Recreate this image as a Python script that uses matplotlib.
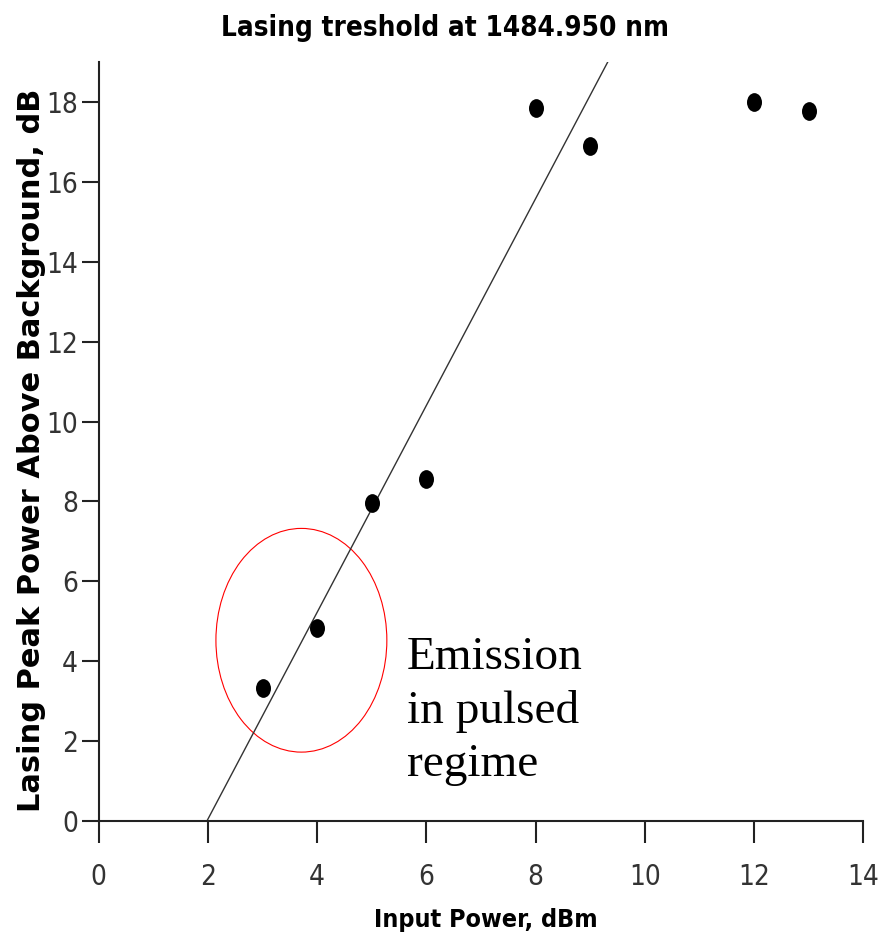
import matplotlib
matplotlib.use("Agg")
import matplotlib.pyplot as plt
from matplotlib.patches import Ellipse
from matplotlib.path import Path
from matplotlib.transforms import Affine2D

# data
input_power = [3, 4, 5, 6, 8, 9, 12, 13]
peak_power = [3.32, 4.83, 7.95, 8.55, 17.85, 16.9, 17.99, 17.78]

# linear fit shown in the plot
fit_x = [1.98, 9.32]
fit_y = [0, 19]

xticks = [0, 2, 4, 6, 8, 10, 12, 14]
yticks = [0, 2, 4, 6, 8, 10, 12, 14, 16, 18]

# slightly tall dots (the original image was stretched vertically)
dot = Path.unit_circle().transformed(Affine2D().scale(1.0, 1.25))

fig = plt.figure(figsize=(8.9, 9.41), dpi=100)
ax = fig.add_axes([0.111, 0.1275, 0.859, 0.8066])

ax.plot(fit_x, fit_y, color="#333333", lw=1.0, zorder=2)
ax.plot(input_power, peak_power, linestyle="none", marker=dot, markersize=13.5,
        color="black", markeredgewidth=0, zorder=3)

ax.add_patch(Ellipse((3.71, 4.525), 3.13, 5.6, fill=False, edgecolor="red", lw=0.8))

ax.text(5.64, 4.62, "Emission\nin pulsed\nregime", family="Liberation Serif",
        fontsize=34, ha="left", va="top", linespacing=1.33)

ax.set_xlim(0, 14)
ax.set_ylim(0, 19)
ax.set_xticks(xticks)
ax.set_yticks(yticks)

for s in ["top", "right"]:
    ax.spines[s].set_visible(False)
for s in ["left", "bottom"]:
    ax.spines[s].set_linewidth(1.5)
    ax.spines[s].set_color("#222222")

ax.tick_params(axis="x", length=16, width=1.5, pad=14, labelsize=20, colors="#222222")
ax.tick_params(axis="y", length=12, width=1.5, pad=3, labelsize=20, colors="#222222")
for lab in ax.get_xticklabels() + ax.get_yticklabels():
    lab.set_fontstretch("condensed")
    lab.set_color("#333333")

fig.text(0.5, 0.97, "Lasing treshold at 1484.950 nm", ha="center", va="center",
         fontsize=20, fontweight="bold", fontstretch="condensed")
fig.text(0.546, 0.022, "Input Power, dBm", ha="center", va="center",
         fontsize=18, fontweight="bold", fontstretch="condensed")
fig.text(0.035, 0.521, "Lasing Peak Power Above Background, dB", ha="center", va="center",
         rotation=90, fontsize=22, fontweight="bold")

fig.savefig("out.png", dpi=100)
